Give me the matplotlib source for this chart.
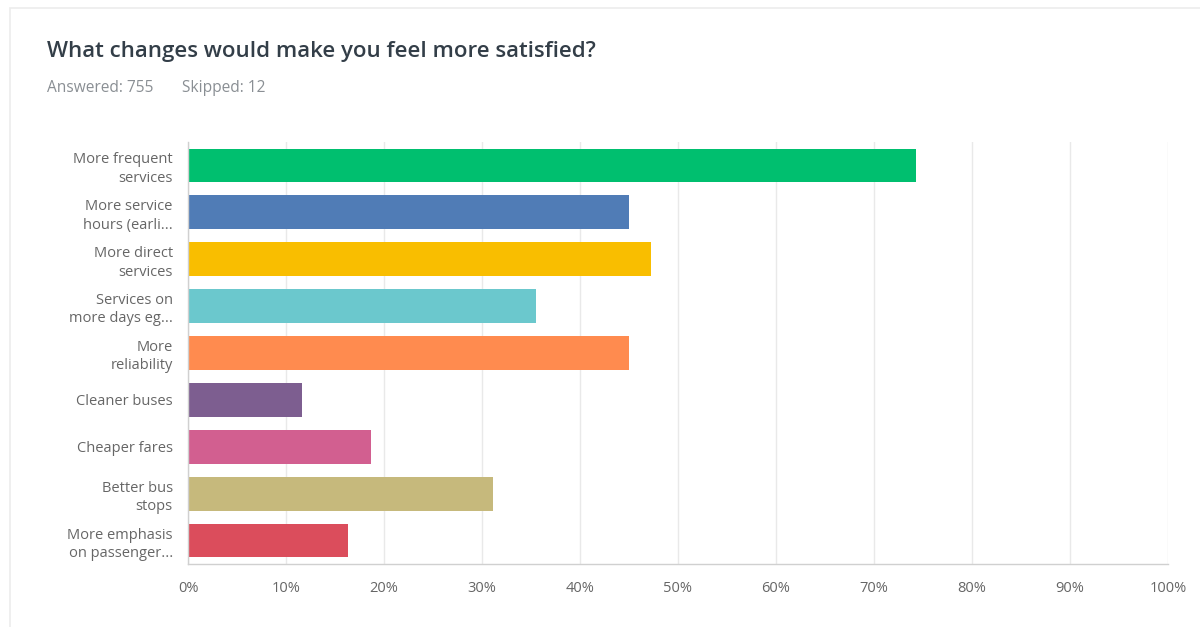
import matplotlib.pyplot as plt
from matplotlib.patches import Rectangle
from matplotlib.ticker import FuncFormatter

plt.rcParams['font.family'] = ['Open Sans', 'DejaVu Sans']

title = "What changes would make you feel more satisfied?"
answered = 755
skipped = 12

choices = [
    "More frequent\nservices",
    "More service\nhours (earli...",
    "More direct\nservices",
    "Services on\nmore days eg...",
    "More\nreliability",
    "Cleaner buses",
    "Cheaper fares",
    "Better bus\nstops",
    "More emphasis\non passenger...",
]
percent = [74.3, 45.0, 47.2, 35.5, 45.0, 11.6, 18.7, 31.1, 16.3]
colors = ["#00BF6F", "#507CB6", "#F9BE00", "#6BC8CD", "#FF8B4F",
          "#7D5E90", "#D25F90", "#C6B97C", "#DB4D5C"]
ticks = list(range(0, 101, 10))

fig = plt.figure(figsize=(12, 6.27), dpi=100)
fig.patch.set_facecolor("white")

# faint card border
fig.patches.append(Rectangle((0.008, -0.01), 1.01, 0.998, transform=fig.transFigure,
                             fill=False, edgecolor="#ececec", linewidth=1.2))

ax = fig.add_axes([0.1567, 0.1005, 0.8166, 0.673])
y = range(len(choices))
ax.barh(y, percent, height=0.72, color=colors, zorder=3)
ax.set_ylim(len(choices) - 0.5, -0.5)
ax.set_xlim(0, 100)
ax.set_xticks(ticks)
ax.xaxis.set_major_formatter(FuncFormatter(lambda v, p: f"{v:.0f}%"))
ax.set_yticks(list(y))
ax.set_yticklabels(choices, linespacing=1.3)
ax.tick_params(axis="both", length=0, labelsize=10.5, labelcolor="#666666")
ax.tick_params(axis="x", pad=12)
ax.tick_params(axis="y", pad=11)
ax.grid(axis="x", color="#e9e9e9", linewidth=1, zorder=0)
for side in ["top", "right"]:
    ax.spines[side].set_visible(False)
for side in ["left", "bottom"]:
    ax.spines[side].set_color("#d0d0d0")
    ax.spines[side].set_linewidth(1)
    ax.spines[side].set_zorder(4)

fig.text(0.039, 0.918, title, fontsize=16, fontweight="semibold", color="#333e48",
         va="center", ha="left")
fig.text(0.039, 0.859, f"Answered: {answered}", fontsize=11.2, color="#8a8f94",
         va="center", ha="left")
fig.text(0.152, 0.859, f"Skipped: {skipped}", fontsize=11.2, color="#8a8f94",
         va="center", ha="left")

fig.savefig("out.png", dpi=100)
